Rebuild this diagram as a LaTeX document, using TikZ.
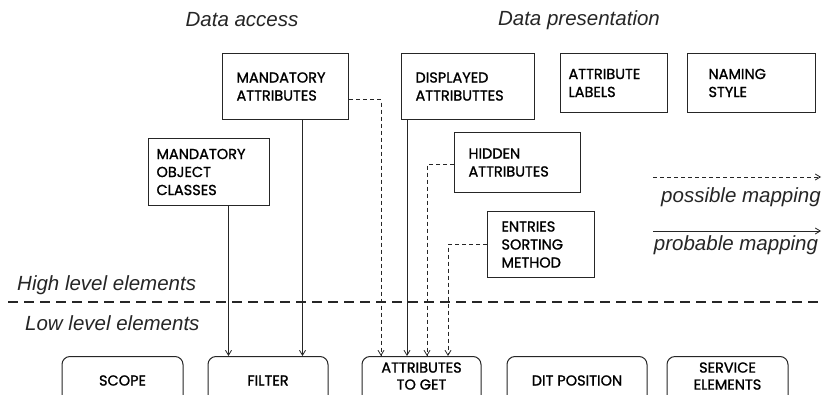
\documentclass[tikz,border=0pt]{standalone}
\usepackage{fontspec}
\setmainfont{Liberation Sans}
\newfontfamily\elemfont[FakeBold=1.2]{Poppins}
\usetikzlibrary{positioning,arrows.meta}
\tikzset{
  heading/.style={inner sep=0pt, text=black!85, font=\itshape\fontsize{20.5}{23}\selectfont},
  high/.style={shape=rectangle, draw=black!85, line width=1pt, anchor=north west, align=left, inner ysep=0pt, text=black, font=\elemfont\fontsize{14.5}{18}\selectfont},
  low/.style={shape=rectangle, rounded corners=8pt, draw=black!85, line width=1pt, anchor=north, align=center, minimum height=48pt, inner sep=0pt, text=black, font=\elemfont\fontsize{14.5}{17}\selectfont},
  probable/.style={draw=black!85, line width=0.8pt, -{Straight Barb[length=5pt,width=6pt]}},
  possible/.style={probable, dash pattern=on 4pt off 3pt},
  level line/.style={draw=black!85, line width=1.8pt, dash pattern=on 10pt off 6pt}
}

\begin{document}
\begin{tikzpicture}[x=1pt, y=-1pt]
  \useasboundingbox (0,0) rectangle (822,394);
  \clip (0,0) rectangle (822,394);
  \fill[white] (0,0) rectangle (822,394);

  % headings
  \node[heading] (access) at (242,20) {Data access};
  \node[heading] (presentation) at (579,20) {Data presentation};
  \node[heading, anchor=west] (highlevel) at (17,285) {High level elements};
  \node[heading, anchor=west] (lowlevel) at (25,323) {Low level elements};

  % high level elements
  \node[high, minimum height=66pt, text width=98pt, inner xsep=14pt] (mandattr) at (222,53) {MANDATORY\\ATTRIBUTES};
  \node[high, minimum height=67pt, text width=105pt, inner xsep=8pt] (objclass) at (148,138) {MANDATORY\\OBJECT\\CLASSES};
  \node[high, minimum height=66pt, text width=105pt, inner xsep=14pt] (dispattr) at (401,53) {DISPLAYED\\ATTRIBUTTES};
  \node[high, minimum height=59pt, text width=91pt, inner xsep=8pt] (attrlabels) at (560,53) {ATTRIBUTE\\LABELS};
  \node[high, minimum height=59pt, text width=86pt, inner xsep=21pt] (naming) at (687,53) {NAMING\\STYLE};
  \node[high, minimum height=60pt, text width=98pt, inner xsep=14pt] (hidden) at (454,132) {HIDDEN\\ATTRIBUTES};
  \node[high, minimum height=66pt, text width=79pt, inner xsep=14pt] (sorting) at (487,211) {ENTRIES\\SORTING\\METHOD};

  % separator
  \draw[level line] (8,302) -- (822,302);

  % low level elements
  \node[low, minimum width=121pt] (scope) at (122.5,356) {SCOPE};
  \node[low, minimum width=120pt] (filter) at (268,356) {FILTER};
  \node[low, minimum width=119pt, text depth=9pt] (attrget) at (421.5,356) {ATTRIBUTES\\TO GET};
  \node[low, minimum width=140pt] (ditpos) at (577,356) {DIT POSITION};
  \node[low, minimum width=121pt, text depth=9pt] (service) at (727.5,356) {SERVICE\\ELEMENTS};

  % mappings
  \draw[probable] ([xshift=19.5pt]objclass.south) -- ([xshift=19.5pt]objclass.south |- filter.north);
  \draw[probable] ([xshift=17pt]mandattr.south) -- ([xshift=17pt]mandattr.south |- filter.north);
  \draw[possible] ([yshift=-13pt]mandattr.east) -| ([xshift=-40.5pt]attrget.north);
  \draw[probable] ([xshift=6pt]dispattr.south west) -- ([xshift=6pt]dispattr.south west |- attrget.north);
  \draw[possible] ([yshift=-2pt]hidden.west) -| ([xshift=5.5pt]attrget.north);
  \draw[possible] (sorting.west) -| ([xshift=26.5pt]attrget.north);

  % legend
  \coordinate (possstart) at (653,177);
  \coordinate (possend) at (821,177);
  \coordinate (probstart) at (653,231);
  \coordinate (probend) at (821,231);
  \draw[possible] (possstart) -- (possend);
  \node[heading] (posstext) at (741,197) {possible mapping};
  \draw[probable] (probstart) -- (probend);
  \node[heading] (probtext) at (736,245) {probable mapping};
\end{tikzpicture}
\end{document}
